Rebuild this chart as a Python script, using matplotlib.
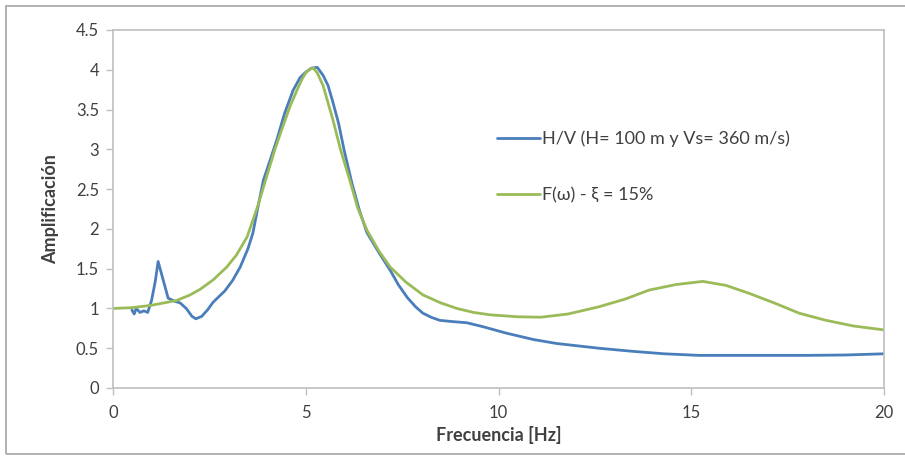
import matplotlib
matplotlib.use("Agg")
import matplotlib.pyplot as plt
from matplotlib.patches import Rectangle

# H/V spectral ratio
hv_freq = [0.49, 0.55, 0.6, 0.7, 0.8, 0.9, 1.0, 1.1, 1.17, 1.25, 1.43, 1.6, 1.74, 1.9,
           2.05, 2.15, 2.3, 2.45, 2.6, 2.75, 2.9, 3.1, 3.3, 3.5, 3.63, 3.75, 3.9, 4.1,
           4.25, 4.45, 4.67, 4.85, 5.0, 5.15, 5.3, 5.45, 5.58, 5.7, 5.85, 6.0, 6.2, 6.4,
           6.59, 6.9, 7.19, 7.4, 7.63, 7.85, 8.04, 8.25, 8.48, 8.8, 9.18, 9.6, 10.2,
           10.9, 11.5, 12.6, 13.5, 14.3, 15.2, 16.5, 18.0, 19.0, 20.0]
hv_amp = [0.98, 0.93, 1.0, 0.95, 0.97, 0.95, 1.1, 1.35, 1.59, 1.45, 1.13, 1.09, 1.07, 1.0,
          0.9, 0.87, 0.9, 0.98, 1.08, 1.15, 1.22, 1.35, 1.52, 1.75, 1.95, 2.25, 2.61, 2.9,
          3.12, 3.45, 3.74, 3.9, 3.97, 4.02, 4.03, 3.93, 3.8, 3.6, 3.33, 2.98, 2.57, 2.22,
          1.95, 1.7, 1.48, 1.3, 1.14, 1.02, 0.94, 0.89, 0.85, 0.835, 0.82, 0.77, 0.69,
          0.61, 0.56, 0.5, 0.46, 0.43, 0.41, 0.41, 0.41, 0.415, 0.43]

# transfer function, damping 15 %
tf_freq = [0.0, 0.5, 1.0, 1.65, 2.0, 2.26, 2.6, 2.95, 3.2, 3.48, 3.75, 4.0, 4.2, 4.4,
           4.6, 4.77, 4.9, 5.0, 5.1, 5.2, 5.3, 5.45, 5.7, 5.9, 6.15, 6.35, 6.59, 6.9,
           7.19, 7.6, 8.04, 8.5, 8.92, 9.35, 9.78, 10.5, 11.1, 11.8, 12.6, 13.3, 13.9,
           14.6, 15.3, 15.9, 16.5, 17.2, 17.8, 18.5, 19.2, 20.0]
tf_amp = [1.0, 1.01, 1.04, 1.1, 1.17, 1.24, 1.36, 1.52, 1.67, 1.9, 2.28, 2.68, 3.0, 3.28,
          3.55, 3.74, 3.88, 3.96, 4.01, 4.02, 3.96, 3.8, 3.38, 3.0, 2.6, 2.26, 1.98, 1.72,
          1.52, 1.33, 1.17, 1.07, 1.0, 0.95, 0.92, 0.895, 0.89, 0.93, 1.02, 1.12, 1.23,
          1.30, 1.34, 1.29, 1.19, 1.06, 0.94, 0.85, 0.78, 0.73]

hv_label = "H/V (H= 100 m y Vs= 360 m/s)"
tf_label = "F(\u03c9) - \u03be = 15%"

plt.rcParams["font.family"] = ["Lato", "DejaVu Sans"]
GRID = "#bfbfbf"
TXT = "#404040"

fig = plt.figure(figsize=(9.05, 4.57), dpi=100)
ax = fig.add_axes([113 / 905, 1 - 388 / 457, 771 / 905, 358 / 457])

ax.plot(hv_freq, hv_amp, color="#4a7ebb", lw=2.0, label=hv_label,
        solid_capstyle="round", solid_joinstyle="round")
ax.plot(tf_freq, tf_amp, color="#9bbb59", lw=2.0, label=tf_label,
        solid_capstyle="round", solid_joinstyle="round")

ax.set_xlim(0, 20)
ax.set_ylim(0, 4.5)
ax.set_xticks([0, 5, 10, 15, 20])
ax.set_yticks([0, 0.5, 1, 1.5, 2, 2.5, 3, 3.5, 4, 4.5])
ax.set_yticklabels(["0", "0.5", "1", "1.5", "2", "2.5", "3", "3.5", "4", "4.5"])
for s in ax.spines.values():
    s.set_color(GRID)
    s.set_linewidth(1.2)
ax.tick_params(colors=GRID, labelcolor=TXT, labelsize=12, length=5, width=1, direction="out")
ax.tick_params(axis="y", pad=5)
ax.tick_params(axis="x", pad=7)

ax.set_xlabel("Frecuencia [Hz]", fontsize=13, fontweight="bold", color=TXT, labelpad=4)
ax.set_ylabel("Amplificaci\u00f3n", fontsize=13, fontweight="bold", color=TXT, labelpad=12)

ax.legend(loc="upper left", bbox_to_anchor=(0.477, 0.765), frameon=False, fontsize=13,
          handlelength=2.4, handletextpad=0.1, labelspacing=2.25, labelcolor=TXT)

fig.patches.append(Rectangle((6 / 905, 1 - 454 / 457), 1.0, 448 / 457,
                             transform=fig.transFigure, fill=False,
                             edgecolor="#a6a6a6", lw=1.2))

fig.savefig("out.png", dpi=100)
